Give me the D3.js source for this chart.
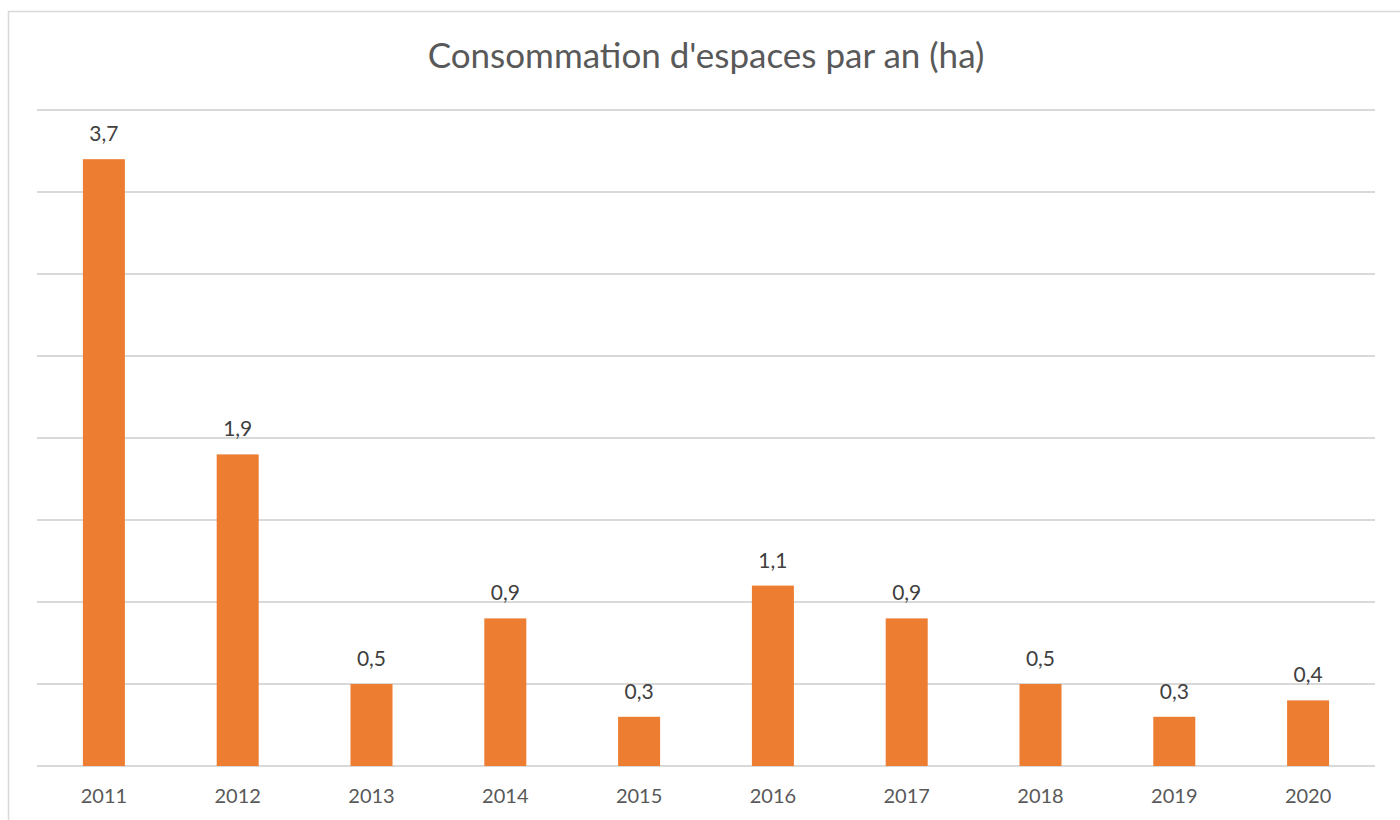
<!DOCTYPE html>
<html>
<head>
<meta charset="utf-8">
<script src="https://cdn.jsdelivr.net/npm/d3@7"></script>
<style>
  body { margin: 0; background: #fff; }
  text { font-family: Lato, "Open Sans", sans-serif; }
</style>
</head>
<body>
<script>
// data
var years = ["2011", "2012", "2013", "2014", "2015", "2016", "2017", "2018", "2019", "2020"];
var values = [3.7, 1.9, 0.5, 0.9, 0.3, 1.1, 0.9, 0.5, 0.3, 0.4];
var gridTicks = [0, 0.5, 1, 1.5, 2, 2.5, 3, 3.5, 4];
var title = "Consommation d'espaces par an (ha)";

var width = 1400;
var height = 820;
var margin = {top: 110, right: 25, bottom: 54, left: 37};

var svg = d3.select("body")
  .append("svg")
  .attr("width", width)
  .attr("height", height);

// chart border (cropped on the right / bottom)
svg.append("rect")
  .attr("x", 8.5)
  .attr("y", 11.5)
  .attr("width", width)
  .attr("height", height)
  .attr("fill", "none")
  .attr("stroke", "#d9d9d9")
  .attr("stroke-width", 1.5);

var x = d3.scaleBand()
  .domain(years)
  .range([margin.left, width - margin.right])
  .paddingInner(0.686)
  .paddingOuter(0.343);

var y = d3.scaleLinear()
  .domain([0, 4])
  .range([height - margin.bottom, margin.top]);

// gridlines
svg.append("g")
  .selectAll("line")
  .data(gridTicks)
  .join("line")
    .attr("x1", margin.left)
    .attr("x2", width - margin.right)
    .attr("y1", d => y(d))
    .attr("y2", d => y(d))
    .attr("stroke", "#d9d9d9")
    .attr("stroke-width", 2);

// bars
svg.append("g")
  .selectAll("rect")
  .data(values)
  .join("rect")
    .attr("x", (d, i) => x(years[i]))
    .attr("y", d => y(d))
    .attr("width", x.bandwidth())
    .attr("height", d => y(0) - y(d))
    .attr("fill", "#ed7d31");

// data labels
svg.append("g")
  .selectAll("text")
  .data(values)
  .join("text")
    .attr("x", (d, i) => x(years[i]) + x.bandwidth() / 2)
    .attr("y", d => y(d) - 18)
    .attr("text-anchor", "middle")
    .attr("font-size", 21)
    .attr("fill", "#404040")
    .text(d => d.toFixed(1).replace(".", ","));

// x axis labels
var xAxis = d3.axisBottom(x).tickSize(0).tickPadding(0);
svg.append("g")
  .attr("transform", "translate(0," + (height - margin.bottom) + ")")
  .call(xAxis)
  .call(g => g.select(".domain").remove())
  .call(g => g.selectAll("text")
    .attr("dy", null)
    .attr("y", 37)
    .attr("font-size", 20)
    .attr("font-family", "Lato, 'Open Sans', sans-serif")
    .attr("fill", "#595959"));

// title
svg.append("text")
  .attr("x", (margin.left + width - margin.right) / 2)
  .attr("y", 68)
  .attr("text-anchor", "middle")
  .attr("font-size", 35)
  .attr("fill", "#595959")
  .text(title);
</script>
</body>
</html>
